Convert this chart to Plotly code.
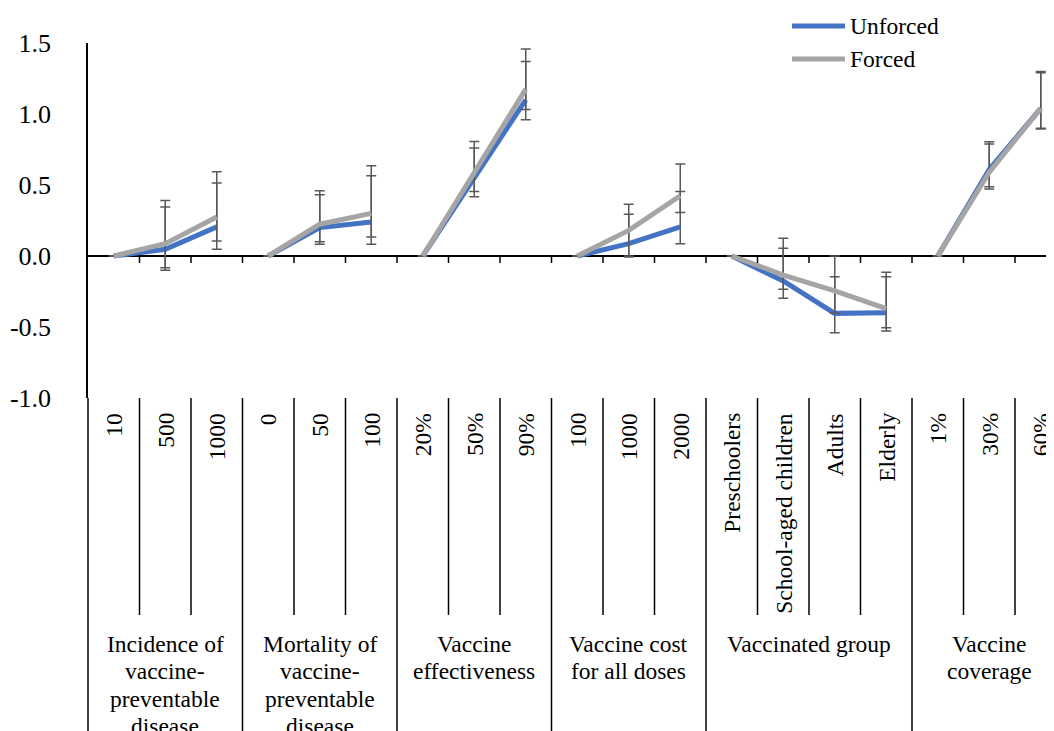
import plotly.graph_objects as go

# ---------------- data ----------------
categories = ["10", "500", "1000",
              "0", "50", "100",
              "20%", "50%", "90%",
              "100", "1000", "2000",
              "Preschoolers", "School-aged children", "Adults", "Elderly",
              "1%", "30%", "60%"]

group_labels = [["Incidence of", "vaccine-", "preventable", "disease"],
                ["Mortality of", "vaccine-", "preventable", "disease"],
                ["Vaccine", "effectiveness"],
                ["Vaccine cost", "for all doses"],
                ["Vaccinated group"],
                ["Vaccine", "coverage"]]
group_sizes = [3, 3, 3, 3, 4, 3]

unforced = [0, 0.047, 0.205, 0, 0.20, 0.24, 0, 0.55, 1.10, 0, 0.087, 0.205,
            0, -0.176, -0.404, -0.40, 0, 0.61, 1.04]
unforced_low = [None, -0.083, 0.047, None, 0.082, 0.082, None, 0.417, 0.959, None, -0.007, 0.087,
                None, -0.298, -0.54, -0.528, None, 0.472, 0.895]
unforced_high = [None, 0.345, 0.514, None, 0.431, 0.565, None, 0.761, 1.369, None, 0.294, 0.455,
                 None, 0.054, -0.146, -0.146, None, 0.789, 1.29]

forced = [0, 0.087, 0.275, 0, 0.224, 0.30, 0, 0.59, 1.175, 0, 0.18, 0.424,
          0, -0.134, -0.246, -0.37, 0, 0.59, 1.04]
forced_low = [None, -0.10, 0.106, None, 0.101, 0.134, None, 0.455, 1.032, None, 0.0, 0.306,
              None, -0.235, -0.404, -0.505, None, 0.488, 0.90]
forced_high = [None, 0.39, 0.594, None, 0.459, 0.636, None, 0.806, 1.458, None, 0.365, 0.648,
               None, 0.125, 0.0, -0.115, None, 0.805, 1.30]

y_ticks = [1.5, 1.0, 0.5, 0.0, -0.5, -1.0]
series_names = ["Unforced", "Forced"]

# ---------------- style ----------------
FONT = "Liberation Serif"
COLORS = {"Unforced": "#4472C4", "Forced": "#A5A5A5"}
ERR_COLOR = "#595959"

OFF = 8  # page body margin
W, H = 1054 - OFF, 731 - OFF
ML, MT = 88 - OFF, 43 - OFF
PLOT_BOTTOM = 398 - OFF
MB = H - PLOT_BOTTOM
plot_h = PLOT_BOTTOM - MT
x_max = -0.5 + (W - ML) / 51.5

fig = go.Figure()

series = {"Unforced": (unforced, unforced_low, unforced_high),
          "Forced": (forced, forced_low, forced_high)}

for name in series_names:
    vals, lows, highs = series[name]
    start = 0
    for gs in group_sizes:
        idx = list(range(start, start + gs))
        ys = [vals[i] for i in idx]
        up = [None if highs[i] is None else highs[i] - vals[i] for i in idx]
        dn = [None if lows[i] is None else vals[i] - lows[i] for i in idx]
        fig.add_trace(go.Scatter(
            x=idx, y=ys, mode="lines", name=name, showlegend=False,
            line=dict(color=COLORS[name], width=5),
            error_y=dict(type="data", symmetric=False, array=up, arrayminus=dn,
                         color=ERR_COLOR, thickness=1.5, width=5),
        ))
        start += gs

shapes = []
annotations = []

def py(p):
    # reference page pixel -> paper y
    return (PLOT_BOTTOM - (p - OFF)) / plot_h

def px(p):
    return (p - OFF - ML) / (W - ML)

# y-axis line extended through category label area
shapes.append(dict(type="line", xref="paper", yref="paper", x0=0, x1=0, y0=0, y1=py(740),
                   line=dict(color="black", width=1.5)))

group_bounds = []
acc = 0
for gs in group_sizes:
    acc += gs
    group_bounds.append(acc - 0.5)
n = len(categories)
for k in range(n - 1):
    b = k + 0.5
    shapes.append(dict(type="line", xref="x", yref="y", ysizemode="pixel", yanchor=0,
                       x0=b, x1=b, y0=0, y1=-7, line=dict(color="black", width=1.5)))
    bottom = py(740) if b in group_bounds else py(615)
    shapes.append(dict(type="line", xref="x", yref="paper", x0=b, x1=b, y0=0, y1=bottom,
                       line=dict(color="black", width=1.5)))

# category labels
for i, c in enumerate(categories):
    annotations.append(dict(x=i, y=py(411), xref="x", yref="paper", text=c, showarrow=False,
                            textangle=-90, xanchor="center", yanchor="top",
                            font=dict(family=FONT, size=23.5, color="black")))

# group labels
start = 0
for gs, lines in zip(group_sizes, group_labels):
    cx = start + (gs - 1) / 2
    for j, ln in enumerate(lines):
        annotations.append(dict(x=cx, y=py(643.5 + 27.5 * j), xref="x", yref="paper", text=ln,
                                showarrow=False, xanchor="center", yanchor="middle",
                                font=dict(family=FONT, size=23.5, color="black")))
    start += gs

# legend (manual)
for j, name in enumerate(series_names):
    yy = py(26 + 33 * j)
    shapes.append(dict(type="line", xref="paper", yref="paper", x0=px(792), x1=px(845),
                       y0=yy, y1=yy, line=dict(color=COLORS[name], width=5)))
    annotations.append(dict(x=px(848), y=yy, xref="paper", yref="paper", text=name,
                            showarrow=False, xanchor="left", yanchor="middle",
                            font=dict(family=FONT, size=23.5, color="black")))

fig.update_layout(
    width=W, height=H,
    margin=dict(l=ML, r=0, t=MT, b=MB, pad=0),
    paper_bgcolor="white", plot_bgcolor="white",
    showlegend=False,
    xaxis=dict(range=[-0.5, x_max], showticklabels=False, showgrid=False, zeroline=False,
               showline=False, ticks=""),
    yaxis=dict(range=[-1.0, 1.5], tickvals=y_ticks, ticktext=[f"{v:.1f}" for v in y_ticks],
               showgrid=False, zeroline=True, zerolinecolor="black", zerolinewidth=1.5,
               showline=True, linecolor="black", linewidth=1.5, ticks="",
               ticklabelstandoff=30,
               tickfont=dict(family=FONT, size=26, color="black")),
    shapes=shapes, annotations=annotations,
)

fig.write_html("out.html")
